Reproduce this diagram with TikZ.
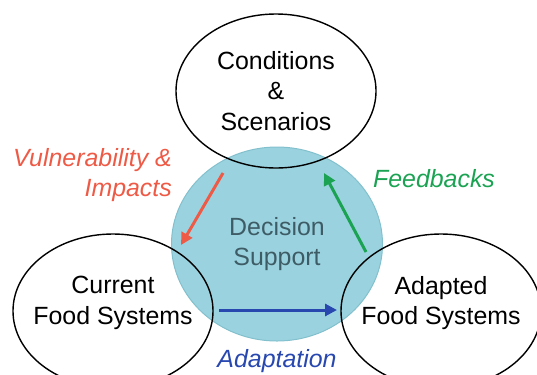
\documentclass[tikz,border=0pt]{standalone}
\usepackage{fontspec}
\setmainfont{Liberation Sans}
\usetikzlibrary{shapes.geometric}
\usetikzlibrary{arrows.meta}
\definecolor{supportfill}{HTML}{9AD3DF}
\definecolor{supportdraw}{HTML}{82C0CD}
\definecolor{supporttext}{HTML}{3E5C66}
\definecolor{vulnred}{HTML}{EE5A45}
\definecolor{feedgreen}{HTML}{1BA353}
\definecolor{adaptblue}{HTML}{2848B0}
\tikzset{basic/.style={font=\fontsize{25}{31}\selectfont,
                       align=center,inner sep=0pt}}
\tikzset{system/.style={basic,ellipse,draw,line width=1.4bp,
                        minimum width=200bp,minimum height=154bp}}
\tikzset{support/.style={basic,ellipse,draw=supportdraw,fill=supportfill,
                         text=supporttext,line width=1bp,
                         minimum width=211bp,minimum height=194bp}}
\tikzset{flow/.style={line width=3bp,-{Triangle[length=12bp,width=12bp]}}}
\tikzset{flowlabel/.style={basic,font=\fontsize{25}{31}\selectfont\itshape}}

\begin{document}
\begin{tikzpicture}[x=1bp,y=-1bp]
    \useasboundingbox (0,0) rectangle (537,374);
    \clip (0,0) rectangle (537,374);
    \node[support] (decision) at (277,244) {Decision\\Support};
    \node[system] (conditions) at (276,91) {Conditions\\\&\\Scenarios};
    \node[system,label={[basic,yshift=8bp]center:Current\\Food Systems}]
          (current) at (113,311) {};
    \node[system,label={[basic,yshift=8bp]center:Adapted\\Food Systems}]
          (adapted) at (441,311) {};
    % arrow ends
    \coordinate (vul1) at (223,173);
    \coordinate (vul2) at (181,245);
    \coordinate (fb1)  at (366,252);
    \coordinate (fb2)  at (324,173);
    \coordinate (ad1)  at (219,310);
    \coordinate (ad2)  at (337,310);
    \foreach \a/\b/\c in {vul1/vul2/vulnred,fb1/fb2/feedgreen,ad1/ad2/adaptblue}{%
          \draw[flow,\c] (\a) -- (\b);
        }
    % Labels
    \node[flowlabel,text=vulnred,align=right,anchor=east] (vullabel)
          at (172,175) {Vulnerability \&\\Impacts};
    \node[flowlabel,text=feedgreen] (fblabel) at (434,179) {Feedbacks};
    \node[flowlabel,text=adaptblue] (adlabel) at (277,361) {Adaptation};
\end{tikzpicture}
\end{document}
